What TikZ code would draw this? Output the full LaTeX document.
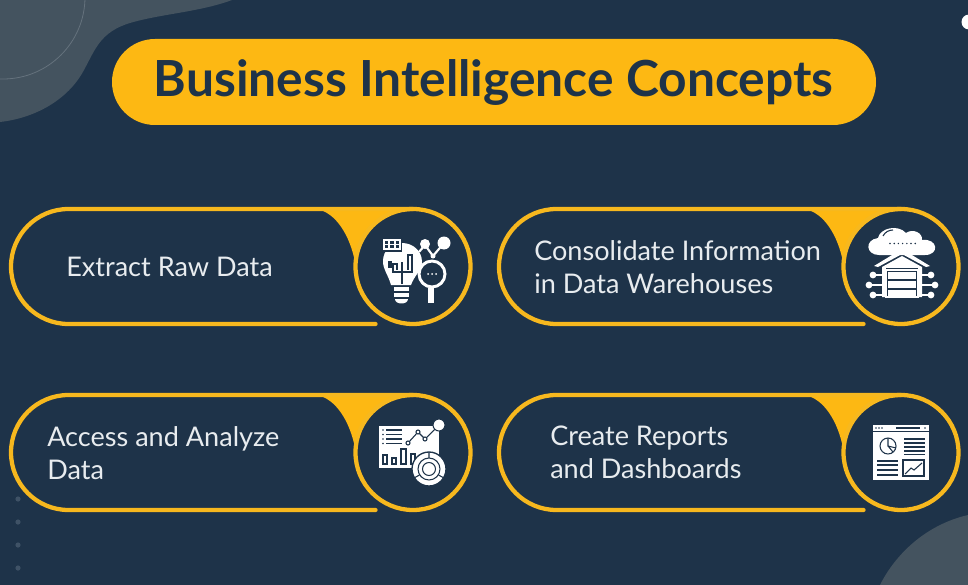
\documentclass[tikz,border=0pt]{standalone}
\usepackage{fontspec}
\setmainfont{Lato}
\usepackage{tikz}
\definecolor{bgblue}{HTML}{1E3349}
\definecolor{blobgrey}{HTML}{44535F}
\definecolor{ringgrey}{HTML}{65727D}
\definecolor{dotgrey}{HTML}{3F5266}
\definecolor{gold}{HTML}{FDB813}
\definecolor{rimgold}{HTML}{F7B81E}
\definecolor{cardtext}{HTML}{E8ECEF}
\tikzset{
	rim/.style={draw=rimgold,line width=3.2pt,line cap=round},
	cardlabel/.style={text=cardtext,font=\fontsize{20.3}{24.75}\selectfont,anchor=base west,align=left,inner sep=0pt},
	wh/.style={fill=white,draw=none},
	dk/.style={draw=bgblue,line width=0.8pt},
	wl/.style={draw=white,line width=1.2pt},
}

\begin{document}
\begin{tikzpicture}[x=0.75pt,y=-0.75pt]
	\useasboundingbox (0,0) rectangle (968,585);
	\fill[bgblue] (0,0) rectangle (968,585);

	% corners
	\fill[blobgrey] (0,0) -- (232,0) .. controls (200,12) and (160,14) .. (130,23) .. controls (100,32) and (95,50) .. (84,70) .. controls (68,100) and (35,118) .. (0,122) -- cycle;
	\draw[ringgrey,line width=0.6pt] (3,-3) circle[radius=82];
	\fill[blobgrey] (880,585) .. controls (895,555) and (925,525) .. (968,515) -- (968,585) -- cycle;
	\fill[white] (969,22) circle[radius=7.5];
	\foreach \j in {499,522,545,568}{
		\fill[dotgrey] (18,\j) circle[radius=2.6];
	}

	% title
	\fill[gold] (155,39) -- (833,39) arc[start angle=-90,end angle=90,radius=43] -- (155,125) arc[start angle=90,end angle=270,radius=43] -- cycle;
	\node (title) at (493.5,83) {\fontsize{37.3}{40}\selectfont\bfseries\color{bgblue}Business Intelligence Concepts};

	% cards
	\foreach \dx/\dy in {0/0,488/0,0/186,488/186}{
		\begin{scope}[shift={(\dx,\dy)}]
			\fill[gold] (316,209) .. controls (336,212) and (350,236) .. (355,262) -- (355,266.5) arc[start angle=180,end angle=270,radius=58] -- cycle;
			\draw[rim] (375.5,324) -- (68.5,324) arc[start angle=90,end angle=270,radius=57.5] -- (413,209);
			\draw[rim] (413,266.5) circle[radius=57.5];
		\end{scope}
	}

	\node[cardlabel] (extract) at (66,276.5) {Extract Raw Data};
	\node[cardlabel,anchor=north west] (warehouse) at (534,240) {Consolidate Information\\in Data Warehouses};
	\node[cardlabel,anchor=north west] (access) at (47,426) {Access and Analyze\\Data};
	\node[cardlabel,anchor=north west] (reports) at (550,426) {Create Reports\\and Dashboards};

	% bulb and lens
	\fill[wh] (391,285) .. controls (388,274) and (383,270) .. (383,261) .. controls (383,250) and (392,243) .. (402,243) .. controls (413,243) and (422,251) .. (422,262) .. controls (422,270) and (414,276) .. (411,285) -- cycle;
	\fill[wh] (394,287) rectangle (409,291);
	\fill[wh] (394,293) rectangle (409,297);
	\fill[wh] (395,299) -- (408,299) .. controls (408,305) and (395,305) .. (395,299) -- cycle;
	\draw[dk] (402,284) -- (402,262);
	\draw[dk] (402,272) -- (393,272) -- (393,264) -- (397,264) -- (397,270);
	\draw[dk] (402,272) -- (412,272) -- (412,255) -- (408,255) -- (408,270);
	\draw[bgblue,line width=2.6pt] (390,261) -- (390,268);
	\fill[bgblue] (383,238) rectangle (402,252);
	\draw[wl,fill=bgblue] (384,240) rectangle (400,249);
	\draw[white,line width=0.8pt] (384,244.5) -- (400,244.5) (389,240) -- (389,249) (395,240) -- (395,249);
	\draw[wl,line width=1.6pt] (419,252) -- (425,245) -- (433,256) -- (444,243);
	\fill[wh] (425,244) circle[radius=5];
	\fill[wh] (444,243) circle[radius=6.5];
	\fill[wh] (433,256) circle[radius=2.5];
	\fill[wh] (428,288) rectangle (434,303);
	\draw[white,line width=2.2pt,fill=bgblue] (432,274) circle[radius=13];
	\foreach \j in {428,432,436}{
		\fill[wh] (\j,274) circle[radius=1];
	}

	% cloud and garage
	\fill[wh] (879,255) .. controls (866,255) and (864,240) .. (878,238) .. controls (880,228) and (898,224) .. (906,233) .. controls (913,228) and (923,233) .. (922,240) .. controls (938,238) and (940,255) .. (925,255) -- cycle;
	\draw[bgblue,line width=0.8pt] (883,236) .. controls (885,232) and (889,230) .. (893,230);
	\foreach \j in {0,...,6}{
		\fill[bgblue] (890+\j*4.2,243.5) circle[radius=0.8];
	}
	\fill[wh] (902,249) -- (930,266) -- (926,267) -- (902,254) -- (878,267) -- (874,266) -- cycle;
	\fill[wh] (902,256) -- (922,267) -- (922,297) -- (882,297) -- (882,267) -- cycle;
	\fill[bgblue] (886,268) rectangle (918,272);
	\draw[white,line width=1.2pt,fill=bgblue] (886,270) rectangle (918,297);
	\fill[wh] (888,272) rectangle (916,279);
	\fill[wh] (888,281) rectangle (916,288);
	\fill[wh] (888,290) rectangle (916,296);
	\draw[wl,line width=0.8pt] (873,275) -- (882,275) (869,285) -- (882,285) (873,295) -- (882,295) (922,275) -- (931,275) (922,285) -- (935,285) (922,295) -- (931,295);
	\foreach \px/\py in {873/275,869/285,873/295,931/275,935/285,931/295}{
		\fill[wh] (\px,\py) circle[radius=3.4];
	}

	% dashboard with target
	\fill[wh] (379,426) rectangle (439,468);
	\foreach \j in {430,434.5,439,443.5}{
		\draw[dk] (386,\j) -- (402,\j);
		\fill[bgblue] (383,\j) circle[radius=0.8];
	}
	\draw[dk] (383,455) rectangle (387,464);
	\draw[dk] (392,458) rectangle (396,464);
	\draw[dk] (401,449) rectangle (406,464);
	\draw[dk] (411,454) rectangle (415,464);
	\draw[dk] (408,443) -- (418,432) -- (425,439) -- (439,425);
	\foreach \px/\py in {408/443,418/432,425/439}{
		\draw[dk,fill=white] (\px,\py) circle[radius=2];
	}
	\draw[bgblue,line width=0.8pt,fill=white] (439,425) circle[radius=6];
	\draw[bgblue,line width=1pt,fill=white] (429,469) circle[radius=17];
	\draw[dk] (429,469) circle[radius=11] (429,469) circle[radius=6.5];
	\draw[dk] (429,452) -- (429,458) (414,478) -- (419.5,475) (444,478) -- (438.5,475);

	% report window
	\fill[wh] (873,425) rectangle (929,480);
	\draw[bgblue,line width=0.7pt] (873,431) -- (929,431);
	\foreach \j in {876,879,882,925}{
		\fill[bgblue] (\j,428) circle[radius=0.8];
	}
	\draw[dk] (896,428) -- (920,428);
	\draw[dk] (888,446) circle[radius=8];
	\draw[dk] (888,438) -- (888,446) -- (896,448) (888,446) -- (893,452);
	\foreach \j in {439,443,447,451,454.5}{
		\draw[dk] (904,\j) -- (925,\j);
	}
	\foreach \j in {461,465,470,475}{
		\draw[dk] (877,\j) -- (898,\j);
	}
	\draw[dk] (903,460) rectangle (924,476);
	\draw[dk] (905,474) -- (911,468) -- (914,470) -- (922,463);
\end{tikzpicture}
\end{document}
